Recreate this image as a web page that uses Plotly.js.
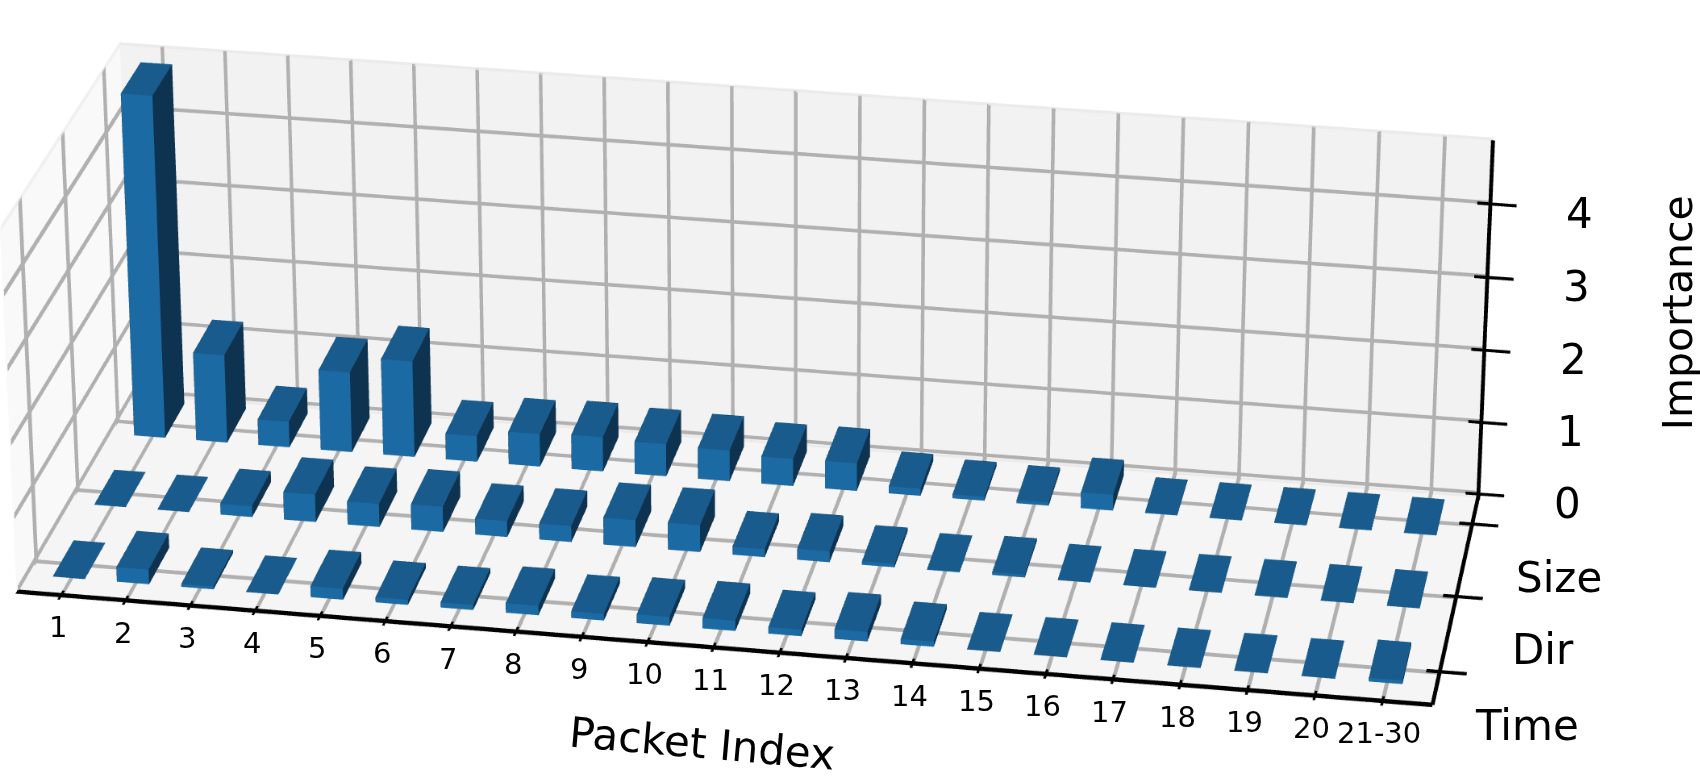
<!DOCTYPE html>
<html><head><meta charset="utf-8"><script src="https://cdn.plot.ly/plotly-3.0.1.min.js"></script>
<style>html,body{margin:0;background:#fff;overflow:hidden;width:1700px;height:780px}#p{position:absolute;left:0;width:1700px}</style></head>
<body><div id="p"></div><script>
const packetLabels=['1','2','3','4','5','6','7','8','9','10','11','12','13','14','15','16','17','18','19','20','21-30'];
const rowLabels=['Time','Dir','Size'];
const sizeValues=[4.75,1.23,0.36,1.12,1.34,0.36,0.455,0.48,0.45,0.43,0.38,0.385,0.1,0.055,0.045,0.22,0.01,0.01,0.01,0.01,0.01];
const dirValues=[0,0,0.15,0.38,0.32,0.35,0.22,0.22,0.37,0.37,0.11,0.15,0.05,0.01,0.04,0,0,0,0,0,0];
const timeValues=[0,0.2,0.04,0,0.15,0.07,0.07,0.13,0.09,0.12,0.14,0.09,0.13,0.07,0,0,0,0,0,0,0.05];
const zTicks=[0,1,2,3,4];
// the drawn box (matplotlib-style panes) and the wider invisible scene that holds the outward ticks
const xr=[0.31,21.735],yr=[-0.43,2.43],zr=[-0.08,4.86];
const pad=[0.6,0.2,0.1];
const boxAspect=[2.5,0.83581,0.70782];
const eye0=[2.24711,-12.49769,5.96476],lookDir=[-0.16648,1,-0.48005],upX=-0.00339;
const canvasH=6583; // a tall canvas narrows the 45 degree field of view to the reference's weak perspective
const rng=[xr,yr,zr];
const sceneR=rng.map((r,i)=>[r[0]-pad[i],r[1]+pad[i]]);
const aspect=rng.map((r,i)=>boxAspect[i]*(sceneR[i][1]-sceneR[i][0])/(r[1]-r[0]));
const shift=rng.map((r,i)=>((sceneR[i][0]+sceneR[i][1])/2-(r[0]+r[1])/2)/(r[1]-r[0])*boxAspect[i]);
const eye=eye0.map((v,i)=>v-shift[i]);
const pd=document.getElementById('p');pd.style.height=canvasH+'px';pd.style.top=(390-canvasH/2)+'px';
const mx=[],my=[],mz=[],mi=[],mj=[],mk=[],mc=[];
function tri(s,a,b,c,col){mi.push(s+a);mj.push(s+b);mk.push(s+c);mc.push(col)}
function quad(pts,col){const s=mx.length;pts.forEach(q=>{mx.push(q[0]);my.push(q[1]);mz.push(q[2])});tri(s,0,1,2,col);tri(s,0,2,3,col)}
function rib(a,b,k,th,col){const o=[0,0,0];o[k]=th/2;const add=(p,m)=>p.map((v,i)=>v+m*o[i]);quad([add(a,-1),add(b,-1),add(b,1),add(a,1)],col)}
const [xa,xb]=xr,[ya,yb]=yr,[za,zb]=zr;
const grid='#b0b0b0',edgeC='#ebebeb',blk='#000000';
const xTicks=packetLabels.map((_,i)=>i+1),yTicks=rowLabels.map((_,i)=>i);
const ex=0.02,ey=0.02,ez=0.015;
quad([[xa,yb,za],[xb,yb,za],[xb,yb,zb],[xa,yb,zb]],'#f2f2f2');
quad([[xa,ya,za],[xa,yb,za],[xa,yb,zb],[xa,ya,zb]],'#f9f9f9');
quad([[xa,ya,za],[xb,ya,za],[xb,yb,za],[xa,yb,za]],'#f5f5f5');
rib([xa,yb-ey,zb],[xb,yb-ey,zb],2,0.04,edgeC);
rib([xa+ex,ya,zb],[xa+ex,yb,zb],2,0.07,'#f0f0f0');
rib([xa,yb,za+ez],[xb,yb,za+ez],1,0.05,edgeC);
const GW=1.25;
xTicks.forEach(x=>{rib([x,yb-ey,za],[x,yb-ey,zb],0,0.045*GW,grid);rib([x,ya,za+2*ez],[x,yb,za+2*ez],0,0.048*GW,grid)});
zTicks.forEach(z=>{rib([xa,yb-ey,z],[xb,yb-ey,z],2,0.04*GW,grid);rib([xa+ex,ya,z],[xa+ex,yb,z],2,0.073*GW,grid)});
yTicks.forEach(y=>{rib([xa+ex,y,za],[xa+ex,y,zb],1,0.066*GW,grid);rib([xa,y,za+2*ez],[xb,y,za+2*ez],1,0.04*GW,grid)});
rib([xa,ya,za+3*ez],[xb,ya,za+3*ez],1,0.056,blk);
rib([xb,ya,za+3*ez],[xb,yb,za+3*ez],0,0.06,blk);
rib([xb,yb-2*ey,za],[xb,yb-2*ey,zb],0,0.06,blk);
xTicks.forEach(x=>rib([x,ya-0.06,za+3*ez],[x,ya+0.06,za+3*ez],0,0.04,blk));
yTicks.forEach(y=>rib([xb-0.2,y,za+3*ez],[xb+0.4,y,za+3*ez],1,0.044,blk));
zTicks.forEach(z=>rib([xb-0.2,yb-2*ey,z],[xb+0.4,yb-2*ey,z],2,0.042,blk));
const panes={type:'mesh3d',x:mx,y:my,z:mz,i:mi,j:mj,k:mk,facecolor:mc,flatshading:true,lighting:{ambient:1,diffuse:0,specular:0,roughness:1,fresnel:0},hoverinfo:'skip',showscale:false};
const rows=[timeValues,dirValues,sizeValues];
const bx=[],by=[],bz=[],bi=[],bj=[],bk=[],fc=[];
const topCol='#185b8c',frontCol='#1b6aa4',sideCol='#0d3350';
rows.forEach((vals,r)=>vals.forEach((v,c)=>{const x0=c+1-.26,x1=c+1+.24,y0=r-.23,y1=r+.27;const s=bx.length;
 [[x0,y0,0],[x1,y0,0],[x1,y1,0],[x0,y1,0],[x0,y0,v],[x1,y0,v],[x1,y1,v],[x0,y1,v]].forEach(q=>{bx.push(q[0]);by.push(q[1]);bz.push(q[2])});
 const t=(a,b,c,col)=>{bi.push(s+a);bj.push(s+b);bk.push(s+c);fc.push(col)};
 t(0,1,5,frontCol);t(0,5,4,frontCol);t(1,2,6,sideCol);t(1,6,5,sideCol);t(4,5,6,topCol);t(4,6,7,topCol);t(3,0,4,sideCol);t(3,4,7,sideCol);t(2,3,7,sideCol);t(2,7,6,sideCol);}));
const bars={type:'mesh3d',x:bx,y:by,z:bz,i:bi,j:bj,k:bk,facecolor:fc,flatshading:true,lighting:{ambient:1,diffuse:0,specular:0,roughness:1,fresnel:0},hoverinfo:'skip',showscale:false};
const font=s=>({family:'DejaVu Sans',size:s,color:'#000'});
const ann=[];
packetLabels.forEach((t,i)=>ann.push({x:i+1,y:ya,z:za,text:t,showarrow:false,font:font(29),xshift:-3,yshift:-29}));
rowLabels.forEach((t,i)=>ann.push({x:xb,y:i,z:za,text:t,showarrow:false,font:font(42),xshift:87,yshift:-50}));
zTicks.forEach(v=>ann.push({x:xb,y:yb,z:v,text:String(v),showarrow:false,font:font(42),xshift:89,yshift:-12}));
ann.push({x:11,y:ya,z:za,text:'Packet Index',showarrow:false,font:font(42),textangle:5,xshift:-12,yshift:-93});
ann.push({x:xb,y:yb,z:2.45,text:'Importance',showarrow:false,font:font(41),textangle:-90,xshift:192,yshift:2});
const hid=r=>({visible:false,range:r,autorange:false,showspikes:false});
const layout={paper_bgcolor:'rgba(0,0,0,0)',margin:{l:0,r:0,t:0,b:0},width:1700,height:canvasH,showlegend:false,
 scene:{domain:{x:[0,1],y:[0,1]},aspectmode:'manual',aspectratio:{x:aspect[0],y:aspect[1],z:aspect[2]},dragmode:'orbit',
  xaxis:hid(sceneR[0]),yaxis:hid(sceneR[1]),zaxis:hid(sceneR[2]),
  camera:{eye:{x:eye[0],y:eye[1],z:eye[2]},center:{x:eye[0]+lookDir[0],y:eye[1]+lookDir[1],z:eye[2]+lookDir[2]},up:{x:upX,y:0,z:1},projection:{type:'perspective'}},annotations:ann}};
Plotly.newPlot('p',[panes,bars],layout,{displayModeBar:false,plotGlPixelRatio:1.24});
</script></body></html>
